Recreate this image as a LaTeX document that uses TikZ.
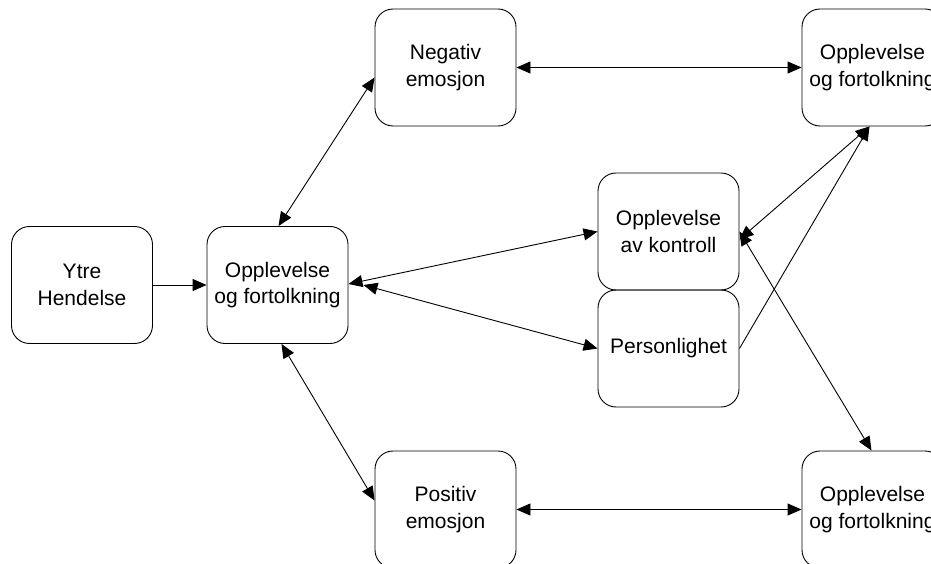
\documentclass[tikz,border=0pt]{standalone}
\usepackage{fontspec}
\setmainfont{Liberation Sans}
\usetikzlibrary{arrows.meta}
\begin{document}
\begin{tikzpicture}[x=1pt,y=-1pt,
  box/.style={draw=black, line width=0.9pt, rounded corners=18pt, minimum width=141pt, minimum height=117pt, align=center, inner sep=0pt, font=\fontsize{21}{26.7}\selectfont},
  conn/.style={line width=0.9pt, draw=black},
  >={Triangle[length=14pt,width=12pt]}]
\useasboundingbox (0,0) rectangle (931,564);
\begin{scope}
\clip (0,0) rectangle (931,564);
\node[box] (ytre) at (82,285) {Ytre\\Hendelse};
\node[box] (o1) at (277.5,285) {Opplevelse\\og fortolkning};
\node[box] (neg) at (445.5,67.5) {Negativ\\emosjon};
\node[box] (pos) at (445.5,509.5) {Positiv\\emosjon};
\node[box] (kon) at (668.5,231.5) {Opplevelse\\av kontroll};
\node[box] (per) at (668.5,348.5) {Personlighet};
\node[box] (tr) at (872.5,67.5) {Opplevelse\\og fortolkning};
\node[box] (br) at (872.5,509.5) {Opplevelse\\og fortolkning};

\draw[conn,->] (ytre.east) -- (o1.west);
\draw[conn,<->] ([xshift=1pt]o1.north) -- ([yshift=-10pt]neg.west);
\draw[conn,<->] ([xshift=4pt]o1.south) -- ([yshift=9pt]pos.west);
\draw[conn,<->] (neg.east) -- (tr.west);
\draw[conn,<->] (pos.east) -- (br.west);
\draw[conn,<->] ([yshift=1pt]o1.east) -- (kon.west);
\draw[conn,<->] ([xshift=15pt]o1.east) -- (per.west);
\draw[conn,<->] ([xshift=-3pt]tr.south) -- ([yshift=-8pt]kon.east);
\draw[conn,<->] (kon.east) -- ([xshift=-1pt]br.north);
\draw[conn,->] (per.east) -- ([xshift=-3pt]tr.south);
\end{scope}
\end{tikzpicture}
\end{document}
